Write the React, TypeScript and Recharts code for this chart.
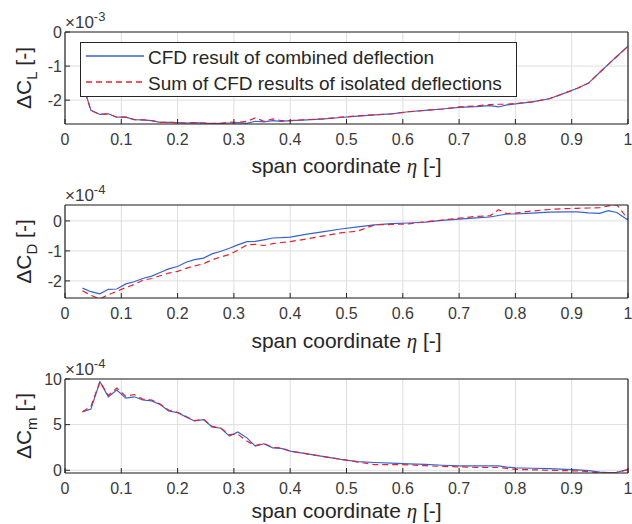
import React from 'react';
import { LineChart, Line, XAxis, YAxis, CartesianGrid, Legend, Label } from 'recharts';

// span coordinate eta
const spanX = [
  0.031, 0.046, 0.062, 0.077, 0.092, 0.108, 0.123, 0.138, 0.154, 0.169,
  0.184, 0.2, 0.215, 0.23, 0.246, 0.261, 0.277, 0.292, 0.307, 0.323,
  0.338, 0.353, 0.369, 0.384, 0.4, 0.43, 0.46, 0.49, 0.52, 0.55,
  0.58, 0.61, 0.64, 0.67, 0.7, 0.73, 0.755, 0.77, 0.785, 0.8,
  0.83, 0.86, 0.89, 0.91, 0.93, 0.95, 0.965, 0.98, 1.0,
];

// Delta C_L (x 1e-3)
const clCombined = [
  -1.5, -2.3, -2.42, -2.4, -2.5, -2.5, -2.57, -2.58, -2.6, -2.65,
  -2.65, -2.66, -2.67, -2.66, -2.67, -2.69, -2.68, -2.67, -2.66, -2.68,
  -2.62, -2.64, -2.6, -2.62, -2.6, -2.58, -2.55, -2.51, -2.47, -2.43,
  -2.4, -2.34, -2.3, -2.26, -2.21, -2.19, -2.16, -2.2, -2.14, -2.11,
  -2.05, -1.96, -1.78, -1.65, -1.5, -1.18, -0.95, -0.72, -0.42,
];
const clIsolated = [
  -1.5, -2.3, -2.42, -2.4, -2.5, -2.5, -2.57, -2.58, -2.6, -2.65,
  -2.65, -2.66, -2.67, -2.66, -2.67, -2.68, -2.68, -2.64, -2.65, -2.62,
  -2.52, -2.62, -2.55, -2.6, -2.6, -2.57, -2.55, -2.5, -2.46, -2.43,
  -2.4, -2.34, -2.3, -2.26, -2.2, -2.17, -2.13, -2.12, -2.12, -2.1,
  -2.05, -1.96, -1.78, -1.65, -1.5, -1.18, -0.95, -0.72, -0.42,
];

// Delta C_D (x 1e-4)
const cdCombined = [
  -2.24, -2.36, -2.43, -2.28, -2.27, -2.1, -2.03, -1.92, -1.84, -1.72,
  -1.6, -1.52, -1.38, -1.29, -1.24, -1.1, -1.01, -0.91, -0.8, -0.69,
  -0.68, -0.63, -0.57, -0.56, -0.54, -0.44, -0.36, -0.27, -0.2, -0.13,
  -0.09, -0.07, -0.04, 0.02, 0.06, 0.1, 0.13, 0.18, 0.23, 0.23,
  0.26, 0.29, 0.3, 0.3, 0.27, 0.25, 0.34, 0.28, 0.03,
];
const cdIsolated = [
  -2.33, -2.48, -2.6, -2.46, -2.35, -2.22, -2.12, -1.98, -1.92, -1.83,
  -1.74, -1.68, -1.58, -1.5, -1.43, -1.3, -1.2, -1.12, -0.98, -0.8,
  -0.78, -0.82, -0.76, -0.72, -0.69, -0.6, -0.5, -0.4, -0.34, -0.13,
  -0.12, -0.1, -0.03, 0.03, 0.09, 0.15, 0.17, 0.37, 0.24, 0.26,
  0.33, 0.38, 0.41, 0.42, 0.43, 0.44, 0.5, 0.54, 0.06,
];

// Delta C_m (x 1e-4)
const cmCombined = [
  6.4, 6.7, 9.7, 8.05, 8.8, 7.9, 8.05, 7.7, 7.6, 7.2,
  6.5, 6.3, 5.85, 5.4, 5.55, 4.76, 4.6, 3.74, 4.2, 3.55,
  2.64, 2.9, 2.45, 2.4, 2.1, 1.8, 1.5, 1.2, 0.95, 0.85,
  0.78, 0.7, 0.65, 0.55, 0.48, 0.48, 0.48, 0.48, 0.35, 0.26,
  0.22, 0.18, 0.1, 0.05, -0.05, -0.2, -0.26, -0.22, 0.07,
];
const cmIsolated = [
  6.4, 7.0, 9.7, 8.2, 9.0, 8.1, 8.3, 7.8, 7.7, 7.25,
  6.6, 6.35, 5.9, 5.45, 5.6, 4.8, 4.6, 3.9, 3.95, 3.2,
  2.7, 2.95, 2.5, 2.45, 2.1, 1.8, 1.5, 1.2, 0.9, 0.62,
  0.62, 0.6, 0.5, 0.42, 0.37, 0.32, 0.3, 0.3, 0.2, 0.1,
  0.05, 0.0, -0.05, -0.07, -0.15, -0.28, -0.3, -0.22, 0.07,
];

const xTicks = [0, 0.1, 0.2, 0.3, 0.4, 0.5, 0.6, 0.7, 0.8, 0.9, 1];
const clTicks = [-2, -1, 0];
const cdTicks = [-2, -1, 0];
const cmTicks = [0, 5, 10];

const seriesNames = ['CFD result of combined deflection', 'Sum of CFD results of isolated deflections'];
const xLabelText = 'span coordinate ';
const etaSymbol = 'η';

const FONT = '"Liberation Sans", Arial, Helvetica, sans-serif';
const AX = '#262626';
const TICK_TXT = '#3a3a3a';
const GRID = '#dedede';
const BLUE = '#3463d2';
const RED = '#e8212b';
const SERIES_COLORS = [BLUE, RED];
const SERIES_DASH = [undefined, '6 4'];

const build = (a: number[], b: number[]) =>
  spanX.map((x, i) => ({ x, combined: a[i], isolated: b[i] }));

const LegendBox = (props: any) => {
  const payload = props.payload || [];
  return (
    <svg width={438} height={56} style={{ display: 'block' }}>
      <rect x={0.5} y={0.5} width={436} height={54} fill="#ffffff" stroke={AX} strokeWidth={1} />
      {payload.map((p: any, i: number) => {
        const cy = 14 + i * 26;
        return (
          <g key={i}>
            <line x1={6} x2={64} y1={cy} y2={cy} stroke={SERIES_COLORS[i]}
              strokeWidth={1.3} strokeDasharray={SERIES_DASH[i]} />
            <text x={68} y={cy + 8} fontSize={19} fill={AX} fontFamily={FONT}>{p.value}</text>
          </g>
        );
      })}
    </svg>
  );
};

type PanelProps = {
  data: any[];
  domain: [number, number];
  yTicks: number[];
  sub: string;
  exp: string;
  top: number;
  height: number;
  marginTop: number;
  xAxisH: number;
  xLabelOff: number;
  legend?: boolean;
};

const Panel = (p: PanelProps) => {
  const yLabel = (lp: any) => {
    const vb = lp.viewBox;
    const cy = vb.y + vb.height / 2;
    return (
      <g>
        <text transform={`translate(31, ${cy}) rotate(-90)`} textAnchor="middle"
          fontSize={21} fill={AX} fontFamily={FONT}>
          ΔC<tspan fontSize={15} dy={6}>{p.sub}</tspan><tspan dy={-6}> [-]</tspan>
        </text>
        <text x={65} y={vb.y - 4} fontSize={17} fill={TICK_TXT} fontFamily={FONT}>
          ×10<tspan fontSize={13} dy={-7}>{p.exp}</tspan>
        </text>
      </g>
    );
  };
  const xLabel = (lp: any) => {
    const vb = lp.viewBox;
    return (
      <text x={vb.x + vb.width / 2} y={vb.y + p.xLabelOff} textAnchor="middle"
        fontSize={21} fill={AX} fontFamily={FONT}>
        {xLabelText}
        <tspan fontFamily='"Liberation Serif", "DejaVu Serif", serif' fontStyle="italic">{etaSymbol}</tspan>
        {' [-]'}
      </text>
    );
  };
  return (
    <div style={{ position: 'absolute', left: 0, top: p.top, width: 632, height: p.height }}>
      <LineChart width={632} height={p.height} data={p.data}
        margin={{ top: p.marginTop, right: 3, left: 0, bottom: 0 }}>
        <CartesianGrid stroke={GRID} strokeWidth={1} />
        <XAxis dataKey="x" type="number" domain={[0, 1]} ticks={xTicks} allowDataOverflow
          height={p.xAxisH} tickSize={-5} tickMargin={15}
          tickFormatter={(v: number) => String(Math.round(v * 10) / 10)}
          axisLine={{ stroke: AX, strokeWidth: 1.2 }} tickLine={{ stroke: AX }}
          tick={{ fill: TICK_TXT, fontSize: 16, fontFamily: FONT }}>
          <Label content={xLabel} />
        </XAxis>
        <XAxis xAxisId="top" dataKey="x" type="number" orientation="top" domain={[0, 1]}
          ticks={xTicks} allowDataOverflow height={1} tickSize={-5} tick={false}
          axisLine={{ stroke: AX, strokeWidth: 1.2 }} tickLine={{ stroke: AX }} />
        <YAxis type="number" domain={p.domain} ticks={p.yTicks} allowDataOverflow width={65}
          tickSize={-5} tickMargin={8}
          axisLine={{ stroke: AX, strokeWidth: 1.2 }} tickLine={{ stroke: AX }}
          tick={{ fill: TICK_TXT, fontSize: 16, fontFamily: FONT }}>
          <Label content={yLabel} />
        </YAxis>
        <YAxis yAxisId="right" type="number" orientation="right" domain={p.domain} ticks={p.yTicks}
          allowDataOverflow width={1} tickSize={-5} tick={false}
          axisLine={{ stroke: AX, strokeWidth: 1.2 }} tickLine={{ stroke: AX }} />
        <Line type="linear" dataKey="combined" name={seriesNames[0]} stroke={BLUE} strokeWidth={1.2}
          dot={false} activeDot={false} isAnimationActive={false} />
        <Line type="linear" dataKey="isolated" name={seriesNames[1]} stroke={RED} strokeWidth={1.2}
          strokeDasharray="6 4" dot={false} activeDot={false} isAnimationActive={false} />
        {p.legend && (
          <Legend layout="vertical" align="center" verticalAlign="middle"
            content={<LegendBox />}
            wrapperStyle={{ left: 80, top: 41.5, width: 438, height: 56 }} />
        )}
      </LineChart>
    </div>
  );
};

export default function App() {
  return (
    <div style={{ position: 'absolute', left: 0, top: 0, width: 632, height: 524, background: '#fff' }}>
      <Panel data={build(clCombined, clIsolated)} domain={[-2.7, 0]} yTicks={clTicks} sub="L" exp="-3"
        top={0} height={182} marginTop={31} xAxisH={58} xLabelOff={49} legend />
      <Panel data={build(cdCombined, cdIsolated)} domain={[-2.57, 0.53]} yTicks={cdTicks} sub="D" exp="-4"
        top={175} height={182} marginTop={29} xAxisH={59} xLabelOff={50} />
      <Panel data={build(cmCombined, cmIsolated)} domain={[-0.3, 10]} yTicks={cmTicks} sub="m" exp="-4"
        top={350} height={174} marginTop={28} xAxisH={51} xLabelOff={44.5} />
    </div>
  );
}
